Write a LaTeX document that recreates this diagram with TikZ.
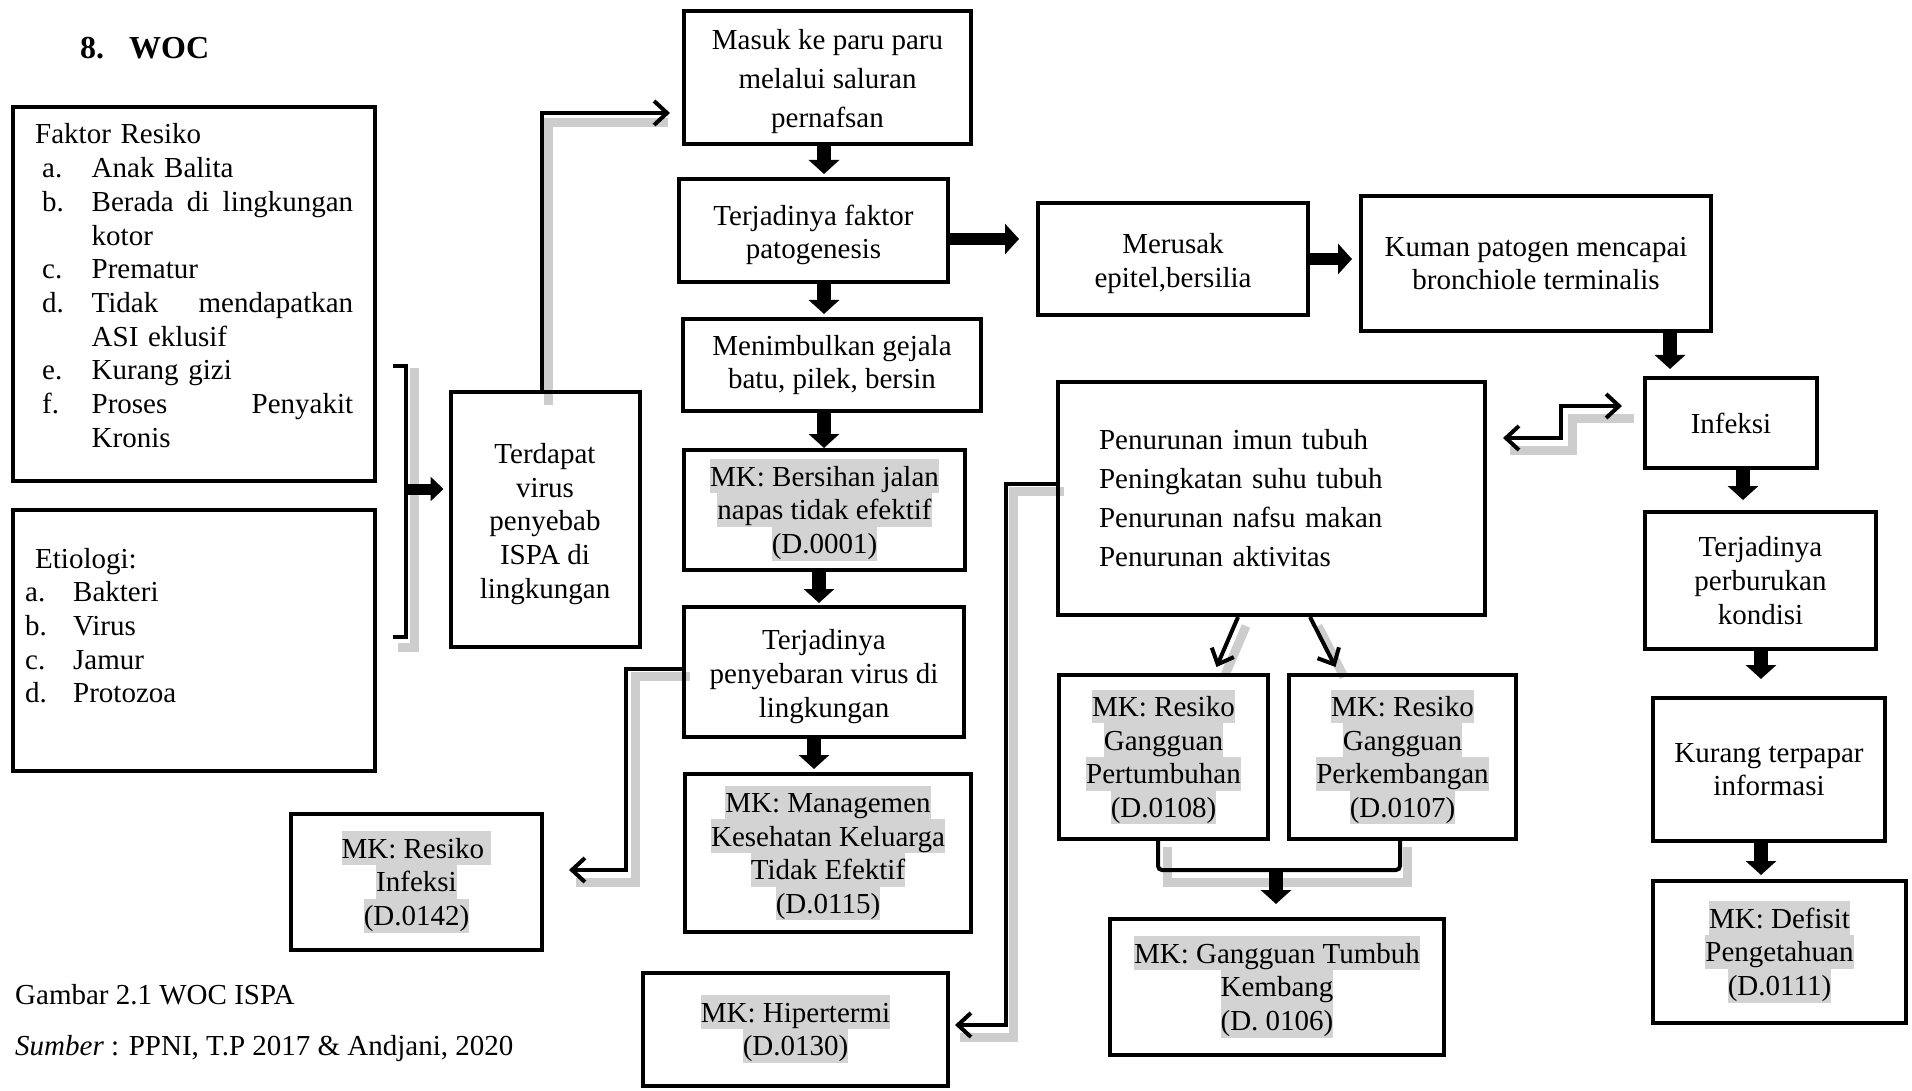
\documentclass[tikz,border=0pt]{standalone}
\usepackage{fontspec}
\setmainfont{Liberation Serif}
\usetikzlibrary{arrows.meta,calc}
\definecolor{hlgray}{RGB}{211,211,211}
\definecolor{shadowgray}{RGB}{205,205,205}
\newcommand\fsn{\fontsize{29}{33.7}\selectfont}
\newcommand\fsw{\fontsize{29}{39}\selectfont}
\newcommand\hlbox[1]{{\setlength{\fboxsep}{0pt}\colorbox{hlgray}{\rule[-7pt]{0pt}{33.7pt}#1}}}
\newcommand\jline[1]{\leavevmode\hbox to 318pt{#1}}
\newcommand\tp{\rule{0pt}{29pt}}
\begin{document}
\begin{tikzpicture}[x=1pt,y=-1pt,
  box/.style={draw, line width=4pt, rectangle, inner sep=0pt, align=center, font=\fsn},
  conn/.style={line width=4pt, -{Straight Barb[length=13pt,width=24pt]}},
  dconn/.style={line width=4pt, {Straight Barb[length=13pt,width=24pt]}-{Straight Barb[length=13pt,width=24pt]}},
  blk/.style={line width=14pt, -{Triangle[width=30pt,length=14pt]}},
  shad/.style={line width=9pt, draw=shadowgray},
  txt/.style={inner sep=0pt, font=\fsn},
]
\useasboundingbox (0,0) rectangle (1912,1091);

% ---------- shadows of connectors ----------
\draw[shad] (548,405) -- (548,123) -- (668,123);
\draw[shad] (414,368) -- (414,647) -- (398,647);
\draw[shad] (690,676) -- (635,676) -- (635,882) -- (576,882);
\draw[shad] (1064,491) -- (1013,491) -- (1013,1037) -- (960,1037);
\draw[shad] (1510,450) -- (1572,450) -- (1572,418) -- (1634,418);
\draw[shad] (1167,847) -- (1167,882) -- (1407,882) -- (1407,847);
\draw[shad] (1246,626) -- (1225,675);
\draw[shad] (1318,626) -- (1344,677);

% ---------- title ----------
\node[anchor=base west, inner sep=0pt, font=\fontsize{32}{36}\selectfont\bfseries] (title) at (80,59) {\makebox[49pt][l]{8.}WOC};

% ---------- left boxes ----------
\node[box, minimum width=362pt, minimum height=374pt] (risk) at (194,294) {};
\node[txt, anchor=base west, text width=318pt, align=left] (risktext) at (35,144) {Faktor Resiko\\
\hspace*{7pt}\makebox[49.5pt][l]{a.}Anak Balita\\
\jline{\hspace*{7pt}\makebox[49.5pt][l]{b.}Berada\hfill di\hfill lingkungan}\\
\hspace*{56.5pt}kotor\\
\hspace*{7pt}\makebox[49.5pt][l]{c.}Prematur\\
\jline{\hspace*{7pt}\makebox[49.5pt][l]{d.}Tidak\hfill mendapatkan}\\
\hspace*{56.5pt}ASI eklusif\\
\hspace*{7pt}\makebox[49.5pt][l]{e.}Kurang gizi\\
\jline{\hspace*{7pt}\makebox[49.5pt][l]{f.}Proses\hfill Penyakit}\\
\hspace*{56.5pt}Kronis};

\node[box, minimum width=362pt, minimum height=261pt] (etio) at (194,640.5) {};
\node[txt, anchor=base west, text width=300pt, align=left] (etiotext) at (25,568) {\hspace*{10pt}Etiologi:\\
\makebox[48pt][l]{a.}Bakteri\\
\makebox[48pt][l]{b.}Virus\\
\makebox[48pt][l]{c.}Jamur\\
\makebox[48pt][l]{d.}Protozoa};

\node[box, minimum width=189pt, minimum height=255pt] (terdapat) at (545,519.5) {\tp Terdapat\\virus\\penyebab\\ISPA di\\lingkungan};

% ---------- middle column ----------
\node[box, font=\fsw, minimum width=287pt, minimum height=133pt] (masuk) at (827.5,77.5) {\tp Masuk ke paru paru\\melalui saluran\\pernafsan};
\node[box, minimum width=269pt, minimum height=103pt] (patog) at (813.5,230.5) {\tp Terjadinya faktor\\patogenesis};
\node[box, minimum width=298pt, minimum height=92pt] (menim) at (832,365) {Menimbulkan gejala\\batu, pilek, bersin};
\node[box, minimum width=281pt, minimum height=120pt] (bersihan) at (824.5,510) {\hlbox{MK: Bersihan jalan}\\\hlbox{napas tidak efektif}\\\hlbox{(D.0001)}};
\node[box, minimum width=280pt, minimum height=130pt] (penyebaran) at (824,672) {\tp Terjadinya\\penyebaran virus di\\lingkungan};
\node[box, minimum width=286pt, minimum height=158pt] (managemen) at (828,853) {\hlbox{MK: Managemen}\\\hlbox{Kesehatan Keluarga}\\\hlbox{Tidak Efektif}\\\hlbox{(D.0115)}};
\node[box, minimum width=305pt, minimum height=113pt] (hipertermi) at (795.5,1029) {\hlbox{MK: Hipertermi}\\\hlbox{(D.0130)}};
\node[box, minimum width=251pt, minimum height=136pt] (resinf) at (416.5,882) {\hlbox{MK: Resiko }\\\hlbox{Infeksi}\\\hlbox{(D.0142)}};

% ---------- right part ----------
\node[box, minimum width=270pt, minimum height=112pt] (merusak) at (1173,259) {\tp Merusak\\epitel,bersilia};
\node[box, minimum width=350pt, minimum height=135pt] (kuman) at (1536,263.5) {Kuman patogen mencapai\\bronchiole terminalis};
\node[box, font=\fsw, text width=345pt, align=left, minimum width=427pt, minimum height=233pt] (penurunan) at (1271.5,498.5) {Penurunan imun tubuh\\Peningkatan suhu tubuh\\Penurunan nafsu makan\\Penurunan aktivitas};
\node[box, minimum width=172pt, minimum height=90pt] (infeksi) at (1731,423) {Infeksi};
\node[box, minimum width=231pt, minimum height=137pt] (perburukan) at (1760.5,580.5) {Terjadinya\\perburukan\\kondisi};
\node[box, minimum width=232pt, minimum height=143pt] (kurang) at (1769,769.5) {Kurang terpapar\\informasi};
\node[box, minimum width=253pt, minimum height=142pt] (defisit) at (1779.5,952) {\hlbox{MK: Defisit}\\\hlbox{Pengetahuan}\\\hlbox{(D.0111)}};
\node[box, minimum width=209pt, minimum height=164pt] (pertumbuhan) at (1163.5,757) {\hlbox{MK: Resiko}\\\hlbox{Gangguan}\\\hlbox{Pertumbuhan}\\\hlbox{(D.0108)}};
\node[box, minimum width=227pt, minimum height=164pt] (perkembangan) at (1402.5,757) {\hlbox{MK: Resiko}\\\hlbox{Gangguan}\\\hlbox{Perkembangan}\\\hlbox{(D.0107)}};
\node[box, minimum width=334pt, minimum height=136pt] (tumbuh) at (1277,987) {\hlbox{MK: Gangguan Tumbuh}\\\hlbox{Kembang}\\\hlbox{(D. 0106)}};

% ---------- captions ----------
\node[anchor=base west, txt] (cap1) at (15,1004) {Gambar 2.1 WOC ISPA};
\node[anchor=base west, txt] (cap2) at (15,1055) {\textit{Sumber} : PPNI, T.P 2017 \& Andjani, 2020};

% ---------- bracket and thin connectors ----------
\draw[line width=4pt] (393,366) -- (406,366) -- (406,637) -- (393,637);
\coordinate (brk) at (406,489);
\draw[line width=11pt, -{Triangle[width=24pt,length=13pt]}] (brk) -- ($(terdapat.west |- brk)+(-5,0)$);

\draw[conn] ([xshift=-3pt]terdapat.north) |- ($(masuk.west |- 0,113)+(-12,0)$);
\draw[conn] (penyebaran.west |- 0,669) -- (626,669) -- (626,870) -- ($(resinf.east |- 0,870)+(25,0)$);
\draw[conn] (penurunan.west |- 0,484) -- (1006,484) -- (1006,1025) -- ($(hipertermi.east |- 0,1025)+(5,0)$);
\draw[dconn] ($(penurunan.east |- 0,438)+(16,0)$) -- (1561,438) -- (1561,406) -- ($(infeksi.west |- 0,406)+(-21,0)$);
\draw[conn] (1238,0 |- penurunan.south) -- ($(pertumbuhan.north)+(53,-6)$);
\draw[conn] (1310,0 |- penurunan.south) -- ($(perkembangan.north)+(-67,-6)$);
\draw[line width=4pt, rounded corners=4pt] (1158,0 |- pertumbuhan.south) -- (1158,870) -- (1400,870) -- (1400,0 |- perkembangan.south);
\coordinate (mg) at (1276,870);

% ---------- block arrows ----------
\draw[blk] (824,0 |- masuk.south) -- ($(824,0 |- patog.north)+(0,-3)$);
\draw[blk] (824,0 |- patog.south) -- ($(824,0 |- menim.north)+(0,-3)$);
\draw[blk, line width=12pt] (patog.east |- 0,239) -- ($(merusak.west |- 0,239)+(-17,0)$);
\draw[blk] (824,0 |- menim.south) -- (824,0 |- bersihan.north);
\draw[blk] (819,0 |- bersihan.south) -- ($(819,0 |- penyebaran.north)+(0,-2)$);
\draw[blk] (814,0 |- penyebaran.south) -- ($(814,0 |- managemen.north)+(0,-3)$);
\draw[blk, line width=12pt] (merusak.east |- 0,259) -- ($(kuman.west |- 0,259)+(-7,0)$);
\draw[blk] (1670,0 |- kuman.south) -- ($(1670,0 |- infeksi.north)+(0,-7)$);
\draw[blk] (1743,0 |- infeksi.south) -- ($(1743,0 |- perburukan.north)+(0,-10)$);
\draw[blk] (1761,0 |- perburukan.south) -- ($(1761,0 |- kurang.north)+(0,-17)$);
\draw[blk] (1761,0 |- kurang.south) -- ($(1761,0 |- defisit.north)+(0,-4)$);
\draw[blk] (mg) -- ($(mg |- tumbuh.north)+(0,-13)$);
\end{tikzpicture}
\end{document}
